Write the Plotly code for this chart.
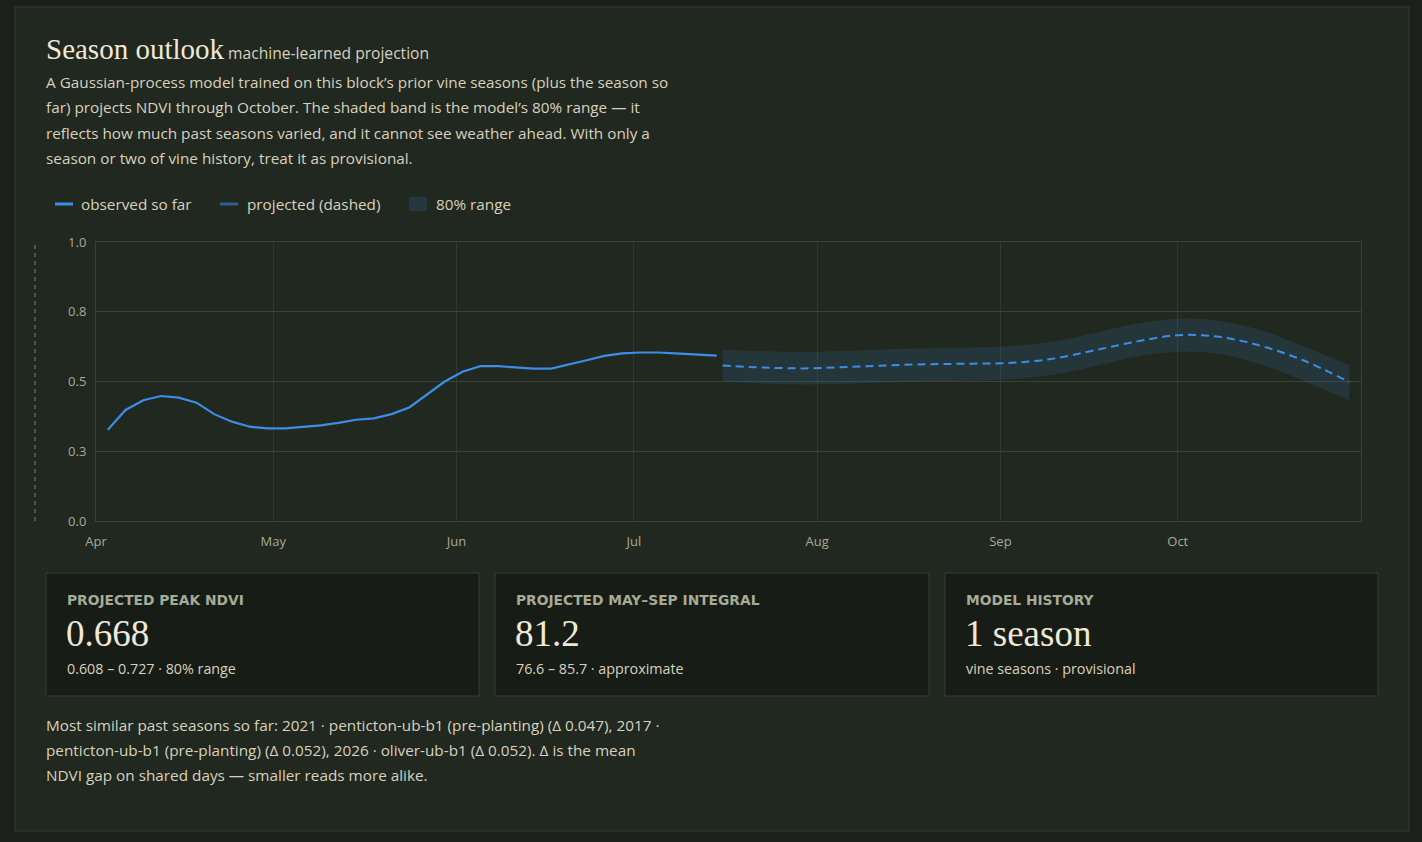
import plotly.graph_objects as go

# observed NDVI so far (every ~3 days)
obs_dates = ["2026-04-03", "2026-04-06", "2026-04-09", "2026-04-12", "2026-04-15",
             "2026-04-18", "2026-04-21", "2026-04-24", "2026-04-27", "2026-04-30",
             "2026-05-03", "2026-05-06", "2026-05-09", "2026-05-12", "2026-05-15",
             "2026-05-18", "2026-05-21", "2026-05-24", "2026-05-27", "2026-05-30",
             "2026-06-02", "2026-06-05", "2026-06-08", "2026-06-11", "2026-06-14",
             "2026-06-17", "2026-06-20", "2026-06-23", "2026-06-26", "2026-06-29",
             "2026-07-02", "2026-07-05", "2026-07-08", "2026-07-11", "2026-07-15"]
obs_ndvi = [0.327, 0.398, 0.433, 0.448, 0.442,
            0.424, 0.383, 0.356, 0.338, 0.332,
            0.332, 0.337, 0.343, 0.352, 0.363,
            0.368, 0.383, 0.407, 0.452, 0.500,
            0.535, 0.555, 0.555, 0.550, 0.546,
            0.546, 0.560, 0.576, 0.592, 0.601,
            0.604, 0.604, 0.601, 0.598, 0.593]

# GP projection (weekly) with 80% band
proj_dates = ["2026-07-16", "2026-07-23", "2026-07-30", "2026-08-06", "2026-08-13",
              "2026-08-20", "2026-08-27", "2026-09-03", "2026-09-10", "2026-09-17",
              "2026-09-24", "2026-10-01", "2026-10-08", "2026-10-15", "2026-10-22",
              "2026-10-30"]
proj_mean = [0.557, 0.550, 0.547, 0.552, 0.558,
             0.562, 0.564, 0.567, 0.582, 0.612,
             0.643, 0.666, 0.660, 0.628, 0.578,
             0.498]
proj_lo = [0.500, 0.493, 0.489, 0.492, 0.497,
           0.500, 0.503, 0.508, 0.525, 0.555,
           0.590, 0.606, 0.599, 0.562, 0.505,
           0.431]
proj_hi = [0.614, 0.608, 0.606, 0.609, 0.615,
           0.619, 0.622, 0.627, 0.643, 0.674,
           0.707, 0.725, 0.717, 0.684, 0.628,
           0.558]

month_ticks = ["2026-04-01", "2026-05-01", "2026-06-01", "2026-07-01",
               "2026-08-01", "2026-09-01", "2026-10-01"]
y_ticks = [0, 0.25, 0.5, 0.75, 1.0]
y_ticktext = ["0.0", "0.3", "0.5", "0.8", "1.0"]

cards = [
    ("PROJECTED PEAK NDVI", "0.668", "0.608 – 0.727 · 80% range"),
    ("PROJECTED MAY–SEP INTEGRAL", "81.2", "76.6 – 85.7 · approximate"),
    ("MODEL HISTORY", "1 season", "vine seasons · provisional"),
]

intro_lines = [
    "A Gaussian-process model trained on this block’s prior vine seasons (plus the season so",
    "far) projects NDVI through October. The shaded band is the model’s 80% range — it",
    "reflects how much past seasons varied, and it cannot see weather ahead. With only a",
    "season or two of vine history, treat it as provisional.",
]
similar_lines = [
    "Most similar past seasons so far: 2021 · penticton-ub-b1 (pre-planting) (Δ 0.047), 2017 ·",
    "penticton-ub-b1 (pre-planting) (Δ 0.052), 2026 · oliver-ub-b1 (Δ 0.052). Δ is the mean",
    "NDVI gap on shared days — smaller reads more alike.",
]

W, H = 1422, 842
L, R, T, B = 96, 1361, 242, 521
PAGE = "#1b201b"
PANEL = "#212820"
CARD = "#181c17"
EDGE = "#363d34"
GRID = "#3a4137"
VGRID = "#30372e"
BLUE = "#3b8ee6"
BAND = "rgba(61,142,230,0.14)"
CREAM = "#efe9d8"
BODY = "#d8d1be"
MUTED = "#a6ab96"
SANS = "Open Sans, Noto Sans, sans-serif"
SERIF = "Liberation Serif, DejaVu Serif, serif"
TEXT_SIZE = 15.3


def xp(px):
    return (px - L) / (R - L)


def yp(py):
    return (B - py) / (B - T)


fig = go.Figure()
fig.add_trace(go.Scatter(x=proj_dates, y=proj_lo, mode="lines", line=dict(width=0, shape="spline"),
                         hoverinfo="skip", showlegend=False))
fig.add_trace(go.Scatter(x=proj_dates, y=proj_hi, mode="lines", line=dict(width=0, shape="spline"),
                         fill="tonexty", fillcolor=BAND, name="80% range", showlegend=False))
fig.add_trace(go.Scatter(x=proj_dates, y=proj_mean, mode="lines", name="projected (dashed)",
                         line=dict(color=BLUE, width=2, dash="8px,5px", shape="spline"), showlegend=False))
fig.add_trace(go.Scatter(x=obs_dates, y=obs_ndvi, mode="lines", name="observed so far",
                         line=dict(color=BLUE, width=2.2), showlegend=False))

shapes = [
    # outer panel
    dict(type="rect", xref="paper", yref="paper", x0=xp(15), x1=xp(1409), y0=yp(831), y1=yp(7),
         fillcolor=PANEL, line=dict(color=EDGE, width=1), layer="below"),
    # dashed rule at the left of the chart
    dict(type="line", xref="paper", yref="paper", x0=xp(35), x1=xp(35), y0=yp(521), y1=yp(242),
         line=dict(color="#6c7566", width=1.2, dash="4px,4px")),
    # legend swatches
    dict(type="line", xref="paper", yref="paper", x0=xp(55), x1=xp(73), y0=yp(204), y1=yp(204),
         line=dict(color=BLUE, width=3)),
    dict(type="line", xref="paper", yref="paper", x0=xp(220), x1=xp(238), y0=yp(204), y1=yp(204),
         line=dict(color="#2d5e96", width=3)),
    dict(type="rect", xref="paper", yref="paper", x0=xp(409), x1=xp(427), y0=yp(211), y1=yp(197),
         fillcolor="#25363e", line=dict(width=0)),
]

annotations = [
    dict(text=f"<span style='font-family:{SERIF};font-size:29px;color:{CREAM}'>Season outlook</span>"
              f" <span style='font-size:15.6px;color:{BODY}'>machine-learned projection</span>",
         x=xp(44), y=yp(49), xanchor="left", yanchor="middle", font=dict(family=SANS, size=15.6, color=BODY)),
]
for i, line in enumerate(intro_lines):
    annotations.append(dict(text=line, x=xp(44), y=yp(82 + i * 25.3), xanchor="left", yanchor="middle",
                            font=dict(family=SANS, size=TEXT_SIZE, color=BODY)))
for i, line in enumerate(similar_lines):
    annotations.append(dict(text=line, x=xp(44), y=yp(725 + i * 25), xanchor="left", yanchor="middle",
                            font=dict(family=SANS, size=TEXT_SIZE, color=BODY)))
for px, label in [(79, "observed so far"), (245, "projected (dashed)"), (434, "80% range")]:
    annotations.append(dict(text=label, x=xp(px), y=yp(204), xanchor="left", yanchor="middle",
                            font=dict(family=SANS, size=TEXT_SIZE, color=BODY)))

card_x = [(46, 479), (495, 929), (945, 1378)]
for (x0, x1), (label, value, sub) in zip(card_x, cards):
    shapes.append(dict(type="rect", xref="paper", yref="paper", x0=xp(x0), x1=xp(x1), y0=yp(696), y1=yp(573),
                       fillcolor=CARD, line=dict(color=EDGE, width=1), layer="below"))
    annotations.append(dict(text=f"<b>{label}</b>", x=xp(x0 + 19), y=yp(600), xanchor="left", yanchor="middle",
                            font=dict(family="DejaVu Sans, sans-serif", size=13.8, color=MUTED)))
    annotations.append(dict(text=value, x=xp(x0 + 18), y=yp(633), xanchor="left", yanchor="middle",
                            font=dict(family=SERIF, size=37, color=CREAM)))
    annotations.append(dict(text=sub, x=xp(x0 + 19), y=yp(668), xanchor="left", yanchor="middle",
                            font=dict(family=SANS, size=14.3, color=BODY)))

for a in annotations:
    a.update(xref="paper", yref="paper", showarrow=False)

fig.update_layout(
    width=W, height=H,
    margin=dict(l=L, r=W - R, t=T, b=H - B, pad=0),
    paper_bgcolor=PAGE,
    plot_bgcolor="rgba(0,0,0,0)",
    shapes=shapes,
    annotations=annotations,
    showlegend=False,
    hovermode="x unified",
    xaxis=dict(type="date", range=["2026-04-01", "2026-11-01"], tickvals=month_ticks, tickformat="%b",
               showgrid=True, gridcolor=VGRID, gridwidth=1, zeroline=False,
               showline=True, linecolor=GRID, mirror=True, ticks="", ticklabelstandoff=8,
               tickfont=dict(family=SANS, size=13, color=MUTED)),
    yaxis=dict(range=[0, 1], tickvals=y_ticks, ticktext=y_ticktext,
               showgrid=True, gridcolor=GRID, gridwidth=1, zeroline=False,
               showline=True, linecolor=GRID, mirror=True, ticks="", ticklabelstandoff=6,
               tickfont=dict(family=SANS, size=13, color=MUTED)),
)

fig.write_html(
    "out.html",
    config={"displayModeBar": False},
    post_script="document.body.style.margin='0';document.body.style.background='" + PAGE + "';",
)
